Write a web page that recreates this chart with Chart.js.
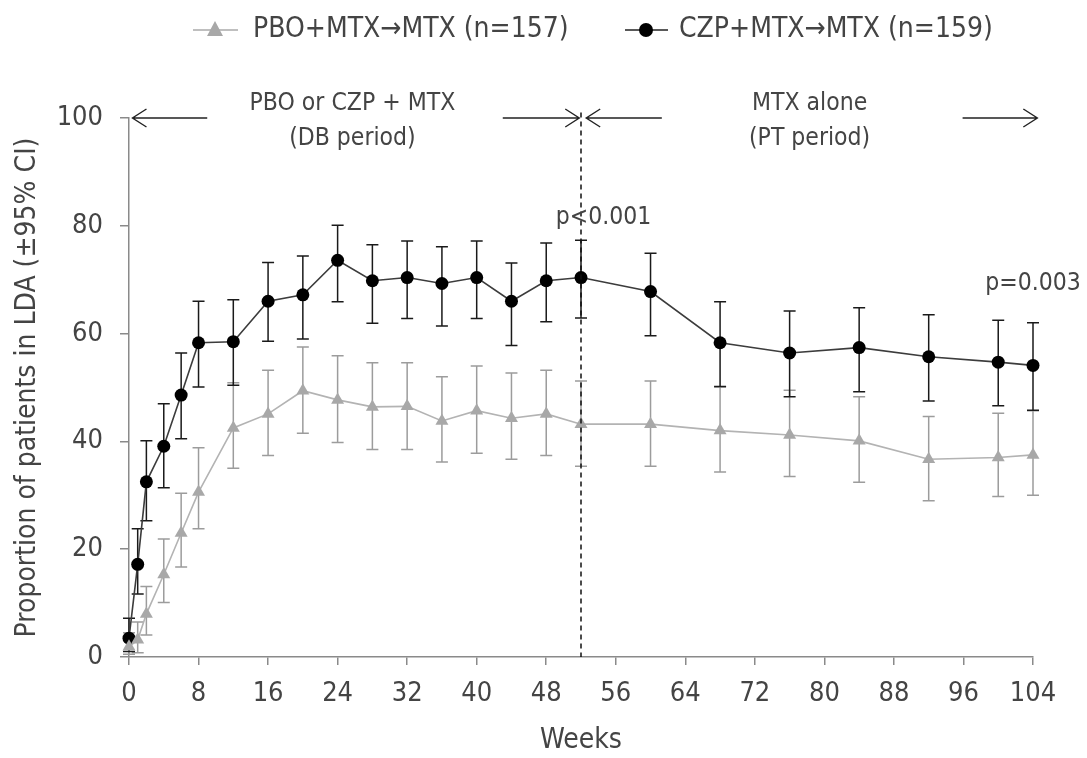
<!DOCTYPE html>
<html>
<head>
<meta charset="utf-8">
<script src="https://cdn.jsdelivr.net/npm/chart.js@4.4.1/dist/chart.umd.min.js"></script>
<style>
  html, body { margin: 0; padding: 0; background: #fff; }
  #wrap { width: 1087px; height: 758px; position: relative; }
</style>
</head>
<body>
<div id="wrap"><canvas id="lda"></canvas></div>
<script>
// weeks on study
const weeks = [0, 1, 2, 4, 6, 8, 12, 16, 20, 24, 28, 32, 36, 40, 44, 48, 52, 60, 68, 76, 84, 92, 100, 104];

// PBO+MTX -> MTX (grey triangles)
const pboMean = [1.9, 3.2, 8.0, 15.3, 23.0, 30.6, 42.5, 45.1, 49.4, 47.7, 46.4, 46.5, 43.8, 45.7, 44.3, 45.1, 43.2, 43.2, 42.0, 41.2, 40.1, 36.7, 37.0, 37.5];
const pboLow  = [0.5, 0.8, 4.1, 10.1, 16.7, 23.8, 35.0, 37.4, 41.5, 39.8, 38.5, 38.5, 36.2, 37.8, 36.7, 37.4, 35.4, 35.4, 34.3, 33.5, 32.4, 29.0, 29.8, 30.0];
const pboHigh = [4.5, 6.5, 13.1, 21.9, 30.4, 38.8, 50.9, 53.2, 57.5, 55.9, 54.6, 54.6, 52.0, 54.0, 52.7, 53.2, 51.2, 51.2, 50.1, 49.5, 48.3, 44.6, 45.2, 45.7];

// CZP+MTX -> MTX (black circles)
const czpMean = [3.5, 17.2, 32.5, 39.1, 48.6, 58.3, 58.5, 66.0, 67.2, 73.6, 69.8, 70.4, 69.3, 70.4, 66.0, 69.8, 70.4, 67.8, 58.3, 56.4, 57.4, 55.7, 54.7, 54.1];
const czpLow  = [1.0, 11.7, 25.3, 31.4, 40.5, 50.1, 50.4, 58.6, 59.0, 65.9, 61.9, 62.8, 61.4, 62.8, 57.8, 62.2, 62.9, 59.6, 50.2, 48.3, 49.2, 47.5, 46.6, 45.8];
const czpHigh = [7.2, 23.8, 40.1, 47.0, 56.4, 66.0, 66.3, 73.2, 74.4, 80.1, 76.5, 77.2, 76.1, 77.2, 73.1, 76.8, 77.3, 74.9, 65.9, 64.2, 64.8, 63.5, 62.5, 62.0];

const seriesLabels = ['PBO+MTX\u2192MTX (n=157)', 'CZP+MTX\u2192MTX (n=159)'];
const xTicks = [0, 8, 16, 24, 32, 40, 48, 56, 64, 72, 80, 88, 96, 104];
const yTicks = [0, 20, 40, 60, 80, 100];

const FONT = "'Liberation Sans Narrow', 'DejaVu Sans Condensed', 'Open Sans', sans-serif";
const TEXT = '#444';
const AXIS = '#8a8a8a';

const toPoints = (ys) => weeks.map((w, i) => ({ x: w, y: ys[i] }));

// error bars, drawn under the markers
const errorBars = {
  id: 'errorBars',
  beforeDatasetsDraw(chart) {
    const { ctx, scales: { x, y } } = chart;
    const sets = [
      { lo: pboLow, hi: pboHigh, color: '#9c9c9c' },
      { lo: czpLow, hi: czpHigh, color: '#1a1a1a' }
    ];
    ctx.save();
    ctx.lineWidth = 1.5;
    sets.forEach(s => {
      ctx.strokeStyle = s.color;
      weeks.forEach((w, i) => {
        const px = x.getPixelForValue(w);
        const top = y.getPixelForValue(s.hi[i]);
        const bot = y.getPixelForValue(s.lo[i]);
        ctx.beginPath();
        ctx.moveTo(px, top); ctx.lineTo(px, bot);
        ctx.moveTo(px - 6, top); ctx.lineTo(px + 6, top);
        ctx.moveTo(px - 6, bot); ctx.lineTo(px + 6, bot);
        ctx.stroke();
      });
    });
    ctx.restore();
  }
};

// period arrows, dashed divider, p values, legend
const annotations = {
  id: 'annotations',
  afterDraw(chart) {
    const { ctx, scales: { x, y } } = chart;
    ctx.save();

    // dashed line at week 52
    const xd = x.getPixelForValue(52);
    ctx.strokeStyle = '#111';
    ctx.lineWidth = 1.5;
    ctx.setLineDash([5, 4]);
    ctx.beginPath();
    ctx.moveTo(xd, y.getPixelForValue(101));
    ctx.lineTo(xd, y.getPixelForValue(0));
    ctx.stroke();
    ctx.setLineDash([]);

    // arrows along the top
    const arrow = (fromW, toW) => {
      const ya = y.getPixelForValue(100);
      const x0 = x.getPixelForValue(fromW);
      const x1 = x.getPixelForValue(toW);
      const dir = Math.sign(x1 - x0);
      ctx.strokeStyle = '#222';
      ctx.lineWidth = 1.4;
      ctx.beginPath();
      ctx.moveTo(x0, ya); ctx.lineTo(x1, ya);
      ctx.moveTo(x1 - dir * 14, ya - 9); ctx.lineTo(x1, ya); ctx.lineTo(x1 - dir * 14, ya + 9);
      ctx.stroke();
    };
    arrow(9, 0.4);
    arrow(43, 51.8);
    arrow(61.3, 52.6);
    arrow(95.9, 104.5);

    ctx.fillStyle = TEXT;
    ctx.textAlign = 'center';
    ctx.textBaseline = 'middle';
    ctx.font = `24.5px ${FONT}`;
    ctx.fillText('PBO or CZP + MTX', x.getPixelForValue(25.7), y.getPixelForValue(102.6));
    ctx.fillText('(DB period)', x.getPixelForValue(25.7), y.getPixelForValue(96.2));
    ctx.fillText('MTX alone', x.getPixelForValue(78.3), y.getPixelForValue(102.6));
    ctx.fillText('(PT period)', x.getPixelForValue(78.3), y.getPixelForValue(96.2));

    ctx.fillText('p<0.001', x.getPixelForValue(54.6), y.getPixelForValue(81.6));
    ctx.fillText('p=0.003', x.getPixelForValue(104), y.getPixelForValue(69.3));

    // legend
    const ly = 30;
    ctx.font = `28px ${FONT}`;
    ctx.textAlign = 'left';
    ctx.lineWidth = 1.5;
    ctx.strokeStyle = '#aaa';
    ctx.beginPath(); ctx.moveTo(193, ly); ctx.lineTo(238, ly); ctx.stroke();
    ctx.fillStyle = '#a8a8a8';
    ctx.beginPath();
    ctx.moveTo(215, ly - 9); ctx.lineTo(223, ly + 6); ctx.lineTo(207, ly + 6); ctx.closePath();
    ctx.fill();
    ctx.fillStyle = TEXT;
    ctx.fillText(seriesLabels[0], 253, ly);

    ctx.strokeStyle = '#222';
    ctx.beginPath(); ctx.moveTo(625, ly); ctx.lineTo(668, ly); ctx.stroke();
    ctx.fillStyle = '#000';
    ctx.beginPath(); ctx.arc(646, ly, 7, 0, Math.PI * 2); ctx.fill();
    ctx.fillStyle = TEXT;
    ctx.fillText(seriesLabels[1], 679, ly);

    ctx.restore();
  }
};

Chart.defaults.font.family = FONT;
Chart.defaults.color = TEXT;

new Chart(document.getElementById('lda'), {
  type: 'line',
  data: {
    datasets: [
      {
        label: seriesLabels[0],
        data: toPoints(pboMean),
        borderColor: '#b3b3b3',
        borderWidth: 1.6,
        pointStyle: 'triangle',
        pointRadius: 7.5,
        pointBackgroundColor: '#a8a8a8',
        pointBorderColor: '#a8a8a8',
        pointBorderWidth: 0,
        tension: 0,
        clip: false
      },
      {
        label: seriesLabels[1],
        data: toPoints(czpMean),
        borderColor: '#3c3c3c',
        borderWidth: 1.6,
        pointStyle: 'circle',
        pointRadius: 6.5,
        pointBackgroundColor: '#000',
        pointBorderColor: '#000',
        pointBorderWidth: 0,
        tension: 0,
        clip: false
      }
    ]
  },
  options: {
    responsive: true,
    maintainAspectRatio: false,
    animation: false,
    layout: { padding: { top: 118, right: 54, left: 0, bottom: 0 } },
    plugins: {
      legend: { display: false },
      tooltip: { enabled: false }
    },
    scales: {
      x: {
        type: 'linear',
        min: 0,
        max: 104,
        afterBuildTicks: s => { s.ticks = xTicks.map(v => ({ value: v })); },
        afterFit: s => { s.height = 101; },
        grid: { drawOnChartArea: false, drawTicks: true, tickLength: 8, color: AXIS, lineWidth: 1.5 },
        border: { display: true, color: AXIS, width: 1.5 },
        ticks: { font: { size: 27 }, color: TEXT, padding: 13, maxRotation: 0 },
        title: { display: true, text: 'Weeks', font: { size: 28 }, color: TEXT, padding: { top: 0, bottom: 0 } }
      },
      y: {
        min: 0,
        max: 100,
        afterBuildTicks: s => { s.ticks = yTicks.map(v => ({ value: v })); },
        afterFit: s => { s.width = 129; },
        grid: { drawOnChartArea: false, drawTicks: true, tickLength: 9, color: AXIS, lineWidth: 1.5 },
        border: { display: true, color: AXIS, width: 1.5 },
        ticks: { font: { size: 27 }, color: TEXT, padding: 17 },
        title: { display: true, text: 'Proportion of patients in LDA (\u00b195% CI)', font: { size: 28 }, color: TEXT, padding: { top: 11, bottom: 0 } }
      }
    }
  },
  plugins: [errorBars, annotations]
});
</script>
</body>
</html>
